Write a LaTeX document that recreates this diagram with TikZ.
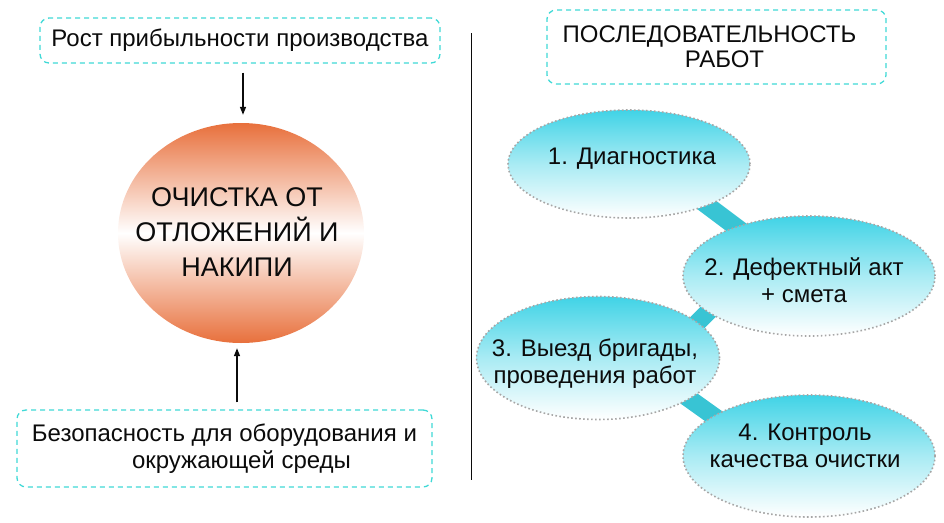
\documentclass[tikz,border=0pt]{standalone}
\usepackage{fontspec}
\setmainfont{Liberation Sans}
\usepackage{tikz}
\usetikzlibrary{arrows.meta,positioning,shapes.geometric,backgrounds}
\definecolor{framecyan}{HTML}{3FD9D6}
\definecolor{stagecyan}{HTML}{40D3E6}
\definecolor{linkcyan}{HTML}{38C4D4}
\definecolor{dotgray}{HTML}{A6A6A6}
\definecolor{burnorange}{HTML}{E8703C}
\definecolor{inkblack}{HTML}{0B0B0B}

\begin{document}
\begin{tikzpicture}[
  x=1pt, y=-1pt,
  every node/.style={font=\fontsize{24}{27}\selectfont, text=inkblack},
  frame/.style={draw=framecyan, dash pattern=on 5pt off 4pt, rounded corners=9pt,
                line width=1.3pt, align=center, inner sep=0pt},
  core/.style={ellipse, inner sep=0pt, minimum width=246pt, minimum height=220pt,
               top color=burnorange, bottom color=burnorange, middle color=white},
  coretext/.style={align=center, font=\fontsize{27}{35}\selectfont},
  stage/.style={ellipse, inner sep=0pt, draw=dotgray, dash pattern=on 1.6pt off 2.4pt,
                line width=1.6pt, top color=stagecyan, bottom color=white,
                middle color=stagecyan!45},
  stagetext/.style={align=center},
  link/.style={line width=18pt, color=linkcyan},
  arr/.style={-{Triangle[length=8pt,width=6pt]}, line width=1.4pt, color=inkblack},
]
  \useasboundingbox (0,0) rectangle (944,522);

  \node[frame, minimum width=400pt, minimum height=45pt] (profit) at (240,40.5)
    {Рост прибыльности производства};
  \node[core] (clean) at (241,233) {};
  \node[coretext] (cleantext) at (237,232) {ОЧИСТКА ОТ\\ОТЛОЖЕНИЙ И\\НАКИПИ};
  \node[frame, minimum width=415pt, minimum height=77pt] (safety) at (224.5,448.5)
    {Безопасность для оборудования и\\\hspace*{34pt}окружающей среды};
  \node[frame, minimum width=339pt, minimum height=74pt, font=\fontsize{24}{25}\selectfont] (order) at (716.5,47)
    {ПОСЛЕДОВАТЕЛЬНОСТЬ\hspace*{14pt}\\\hspace*{16pt}РАБОТ};

  \node[stage, minimum width=242pt, minimum height=108pt] (diag) at (629,164) {};
  \node[stage, minimum width=252pt, minimum height=120pt] (defect) at (809,276) {};
  \node[stage, minimum width=243pt, minimum height=123pt] (crew) at (598,358) {};
  \node[stage, minimum width=252pt, minimum height=122pt] (check) at (809,456) {};
  \node[stagetext] (diagtext) at (632,159) {1. Диагностика};
  \node[stagetext] (defecttext) at (804,280) {2. Дефектный акт\\+ смета};
  \node[stagetext] (crewtext) at (595,364) {3. Выезд бригады,\\проведения работ};
  \node[stagetext] (checktext) at (805,446) {4. Контроль\\качества очистки};

  \coordinate (divtop) at (471,33);
  \coordinate (divbot) at (471,480);
  \draw[line width=1pt, color=inkblack] (divtop) -- (divbot);

  \begin{scope}[on background layer]
    \draw[link] ([shift={(51,21)}]diag.center) -- ([shift={(-49,-31)}]defect.center);
    \draw[link] ([shift={(-74,9)}]defect.center) -- ([shift={(77,-13)}]crew.center);
    \draw[link] ([shift={(72,27)}]crew.center) -- ([shift={(-69,-21)}]check.center);
  \end{scope}

  \draw[arr, shorten <=9pt, shorten >=8pt] ([xshift=3pt]profit.south) -- ([xshift=3pt]profit.south |- clean.north);
  \draw[arr, shorten <=7pt, shorten >=5pt] ([xshift=-4pt]clean.south |- safety.north) -- ([xshift=-4pt]clean.south);
\end{tikzpicture}
\end{document}
